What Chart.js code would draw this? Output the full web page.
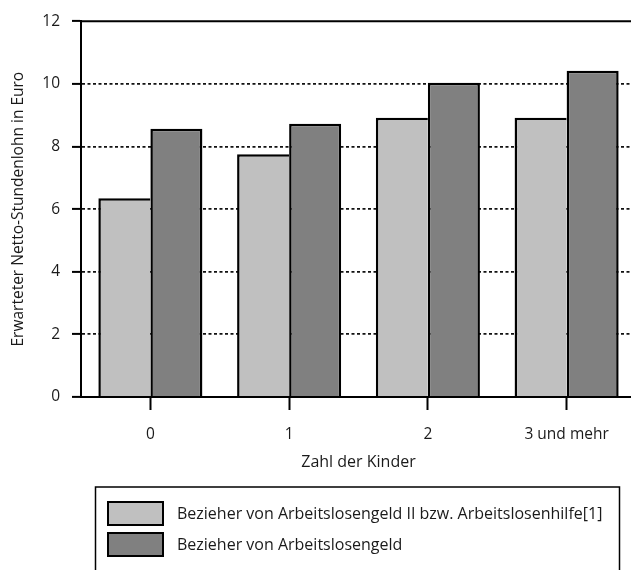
<!DOCTYPE html>
<html>
<head>
<meta charset="utf-8">
<script src="https://cdn.jsdelivr.net/npm/chart.js@4/dist/chart.umd.min.js"></script>
<style>
  html, body { margin: 0; padding: 0; background: #fff; overflow: hidden; }
  #outer { width: 631px; height: 570px; overflow: hidden; }
  #wrap { width: 640px; height: 570px; }
</style>
</head>
<body>
<div id="outer"><div id="wrap"><canvas id="chart"></canvas></div></div>
<script>
var kinder = ["0", "1", "2", "3 und mehr"];
var alg2Werte = [6.35, 7.75, 8.92, 8.92];
var algWerte = [8.57, 8.73, 10.04, 10.42];
var serienNamen = ["Bezieher von Arbeitslosengeld II bzw. Arbeitslosenhilfe[1]", "Bezieher von Arbeitslosengeld"];
var yTicks = [0, 2, 4, 6, 8, 10, 12];

var schrift = "'Open Sans', 'Noto Sans', sans-serif";

// top frame line + boxed legend under the chart
var rahmenPlugin = {
	id: "rahmen",
	afterDraw: function(chart) {
		var ctx = chart.ctx;
		var a = chart.chartArea;
		ctx.save();
		ctx.strokeStyle = "#000";
		ctx.lineWidth = 2;
		ctx.beginPath();
		ctx.moveTo(a.left, a.top);
		ctx.lineTo(chart.width, a.top);
		ctx.stroke();

		// legend box
		ctx.lineWidth = 1.5;
		ctx.strokeRect(95.5, 487, 524, 100);
		var ds = chart.data.datasets;
		for (var i = 0; i < ds.length; i++) {
			var y = 502 + i * 31;
			ctx.fillStyle = ds[i].backgroundColor;
			ctx.fillRect(108, y, 55, 23);
			ctx.lineWidth = 2;
			ctx.strokeStyle = "#000";
			ctx.strokeRect(108, y, 55, 23);
			ctx.fillStyle = "#1a1a1a";
			ctx.font = "16px " + schrift;
			ctx.textBaseline = "middle";
			ctx.textAlign = "left";
			ctx.fillText(ds[i].label, 177, y + 12);
		}
		ctx.restore();
	}
};

new Chart(document.getElementById("chart"), {
	type: "bar",
	data: {
		labels: kinder,
		datasets: [{
			label: serienNamen[0],
			data: alg2Werte,
			backgroundColor: "#c0c0c0",
			borderColor: "#000",
			borderWidth: { top: 2.5, left: 2.5, right: 0, bottom: 0 },
			borderSkipped: false
		}, {
			label: serienNamen[1],
			data: algWerte,
			backgroundColor: "#808080",
			borderColor: "#000",
			borderWidth: { top: 2.5, left: 2.5, right: 2.5, bottom: 0 },
			borderSkipped: false
		}]
	},
	options: {
		responsive: true,
		maintainAspectRatio: false,
		animation: false,
		events: [],
		layout: { padding: { top: 14, right: 4, bottom: 97, left: 0 } },
		categoryPercentage: 0.75,
		barPercentage: 1.0,
		plugins: {
			legend: { display: false },
			tooltip: { enabled: false }
		},
		scales: {
			x: {
				afterFit: function(s) { s.height = 76; },
				grid: {
					offset: false,
					drawOnChartArea: false,
					drawTicks: true,
					tickLength: 13,
					tickColor: "#000",
					tickWidth: 2
				},
				border: { color: "#000", width: 2 },
				ticks: {
					color: "#1a1a1a",
					font: { family: schrift, size: 15.5 },
					padding: 15
				},
				title: {
					display: true,
					text: "Zahl der Kinder",
					color: "#1a1a1a",
					font: { family: schrift, size: 16 },
					padding: { top: 0, bottom: 1 }
				}
			},
			y: {
				min: 0,
				max: 12,
				afterFit: function(s) { s.width = 81; },
				afterBuildTicks: function(s) {
					s.ticks = yTicks.map(function(v) { return { value: v }; });
				},
				grid: {
					color: function(c) {
						return (c.tick && (c.tick.value === 0 || c.tick.value === 12)) ? "rgba(0,0,0,0)" : "#111";
					},
					lineWidth: 1.8,
					drawTicks: true,
					tickLength: 9,
					tickColor: "#000",
					tickWidth: 2
				},
				border: { color: "#000", width: 2, dash: [3, 2.5] },
				ticks: {
					color: "#1a1a1a",
					font: { family: schrift, size: 15.5 },
					padding: 12
				},
				title: {
					display: true,
					text: "Erwarteter Netto-Stundenlohn in Euro",
					color: "#1a1a1a",
					font: { family: schrift, size: 15.5 },
					padding: { top: 9, bottom: 0 }
				}
			}
		}
	},
	plugins: [rahmenPlugin]
});
</script>
</body>
</html>
